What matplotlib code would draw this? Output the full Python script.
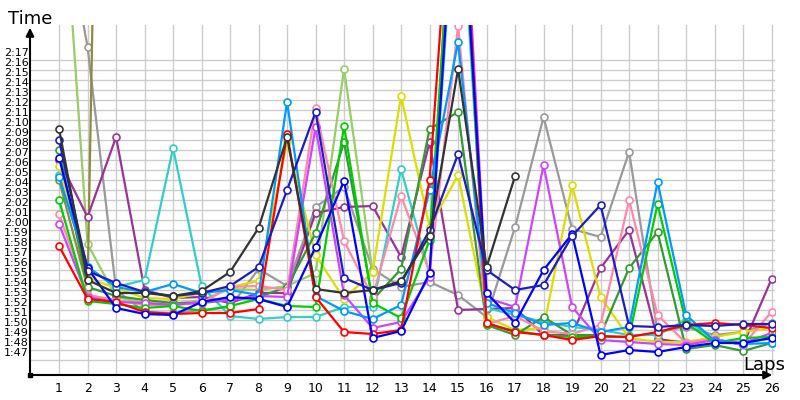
import matplotlib
matplotlib.use('Agg')
import matplotlib.pyplot as plt
import matplotlib.transforms as mtransforms

# lap numbers
laps = list(range(1, 27))

# lap times in seconds, one list per car (colour); values above 2:20 run off the chart
red = [118.4, 113.1, 112.8, 111.8, 111.6, 111.7, 111.7, 112.1, 129.6, 113.3, 109.8, 109.6, 110.0,
       125.0, 165.0, 110.7, 109.8, 109.5, 109.0, 109.4, 109.3, 109.8, 110.5, 110.7, 110.5, 110.2]
dark = [130.1, 115.0, 113.7, 113.7, 113.4, 113.9, 115.8, 120.2, 129.3, 114.1, 113.7, 114.0, 114.9,
        119.4, 136.1, 116.3, 125.4]
navy = [129.0, 115.9, 114.7, 113.8, 113.4, 113.7, 114.4, 116.3, 124.0, 131.8, 115.2, 114.0, 114.7,
        120.0, 127.6, 116.0, 114.0, 114.5, 119.4, 122.5, 110.4, 110.3, 110.5, 110.4, 110.6, 110.6]
blue = [127.2, 116.2, 112.2, 111.6, 111.5, 112.8, 113.3, 113.1, 112.3, 118.3, 124.9, 109.2, 109.9,
        115.7, 160.0, 113.7, 110.7, 116.0, 119.6, 107.5, 108.0, 107.8, 108.3, 108.7, 108.7, 109.2]
sky = [125.3, 116.3, 114.3, 113.8, 114.6, 113.7, 114.0, 113.5, 132.8, 113.4, 111.9, 111.1, 112.5,
       124.0, 138.8, 112.7, 111.7, 110.5, 110.7, 109.8, 110.3, 124.8, 111.5, 108.9, 108.6, 108.7]
cyan = [125.5, 116.3, 114.3, 115.0, 128.2, 114.4, 111.4, 111.1, 111.3, 111.3, 112.3, 112.3, 126.1,
        115.6, 158.0, 112.2, 111.5, 110.8, 110.3, 110.0, 109.5, 109.5, 111.0, 109.0, 108.7, 109.2]
green = [123.0, 112.9, 112.6, 112.2, 112.4, 111.9, 112.4, 113.1, 112.4, 112.3, 130.4, 112.7, 111.2,
         119.0, 162.0, 110.6, 109.9, 109.5, 109.3, 109.3, 109.3, 122.6, 110.7, 108.7, 109.2, 109.3]
dgreen = [128.0, 114.3, 113.4, 113.0, 112.7, 112.7, 113.0, 113.3, 114.3, 119.7, 128.8, 113.0, 116.1,
          130.1, 131.8, 110.5, 109.5, 111.3, 109.5, 109.5, 116.2, 119.8, 108.1, 108.5, 107.9, 108.7]
pink = [121.6, 113.5, 113.0, 112.5, 112.5, 112.7, 114.3, 114.4, 114.0, 132.2, 118.9, 113.3, 123.4,
        115.8, 140.4, 110.6, 111.4, 109.9, 109.6, 110.5, 123.0, 111.5, 108.7, 109.1, 108.5, 111.8]
violet = [120.6, 113.3, 112.8, 112.7, 112.5, 112.8, 113.0, 113.4, 113.3, 130.3, 113.5, 110.2, 110.8,
          115.3, 166.0, 113.2, 112.3, 126.5, 112.3, 109.0, 108.8, 108.6, 108.5, 109.0, 108.7, 109.7]
purple = [127.0, 121.3, 129.3, 114.0, 113.2, 113.3, 112.7, 113.7, 113.7, 121.7, 122.3, 122.4, 117.3,
          128.8, 112.0, 112.1, 112.2, 109.5, 109.5, 116.2, 120.0, 109.1, 108.7, 109.1, 108.5, 115.1]
gray = [154.0, 138.3, 114.0, 111.8, 111.7, 112.0, 112.3, 116.1, 114.4, 122.3, 124.3, 116.1, 114.3,
        114.8, 113.5, 111.3, 120.3, 131.3, 120.1, 119.3, 127.8, 109.8, 110.3, 109.5, 109.8, 110.7]
yellow = [126.4, 115.2, 114.2, 113.2, 113.1, 113.7, 114.3, 114.9, 128.8, 117.5, 113.1, 115.8, 133.4,
          120.3, 125.5, 111.3, 110.0, 110.2, 124.5, 113.3, 109.2, 108.8, 108.8, 109.3, 109.8, 110.2]
lime = [160.0, 118.6, 113.3, 112.7, 112.6, 113.0, 114.1, 114.0, 114.4, 115.7, 136.1, 115.8]
olive = [125.0, 114.2, 270.0]

series = [
    (gray, '#999999'), (lime, '#99cc66'), (olive, '#8c8c3c'), (purple, '#993399'),
    (cyan, '#33cccc'), (yellow, '#dddd00'), (dgreen, '#339933'), (pink, '#ff88aa'),
    (violet, '#cc44ff'), (green, '#00cc00'), (sky, '#0099ff'), (red, '#ff0000'),
    (blue, '#0000ff'), (navy, '#1c1cc0'), (dark, '#333333'),
]

y_ticks = list(range(107, 138))
y_labels = [f"{t // 60}:{t % 60:02d}" for t in y_ticks]

fig = plt.figure(figsize=(8, 4), dpi=100)
ax = fig.add_axes([30 / 800, 25 / 400, 745 / 800, 350 / 400])

for vals, col in series:
    ax.plot(laps[:len(vals)], vals, color=col, lw=1.6, marker='o', ms=5,
            mfc='white', mec=col, mew=1.2, zorder=3)

ax.set_xlim(-0.02, 26.12)
ax.set_ylim(105.5, 140.5)
ax.set_xticks(laps)
ax.set_xticklabels([str(l) for l in laps], fontsize=9)
ax.set_yticks(y_ticks)
ax.set_yticklabels(y_labels, fontsize=8)
ax.tick_params(length=0)
ax.tick_params(axis='x', pad=5)
ax.tick_params(axis='y', pad=1)
ax.grid(color='#cccccc', lw=1, zorder=0)
ax.set_axisbelow(True)

# labels sit a little above their grid line
shift = mtransforms.ScaledTranslation(0, 0.08, fig.dpi_scale_trans)
for lab in ax.get_yticklabels():
    lab.set_transform(lab.get_transform() + shift)

for s in ax.spines.values():
    s.set_visible(False)

ax.annotate('', xy=(0, 1.0), xytext=(0, 0), xycoords='axes fraction',
            arrowprops=dict(arrowstyle='-|>', color='black', lw=1.5, mutation_scale=12),
            annotation_clip=False)
ax.annotate('', xy=(1.0, 0), xytext=(0, 0), xycoords='axes fraction',
            arrowprops=dict(arrowstyle='-|>', color='black', lw=1.5, mutation_scale=12),
            annotation_clip=False)
ax.plot([0], [0], marker='s', ms=3, color='black', transform=ax.transAxes, clip_on=False)

fig.text(8 / 800, 1 - 24 / 400, 'Time', fontsize=13, va='baseline', ha='left')
fig.text(743 / 800, 1 - 370 / 400, 'Laps', fontsize=13, va='baseline', ha='left')

fig.savefig('out.png', dpi=100)
